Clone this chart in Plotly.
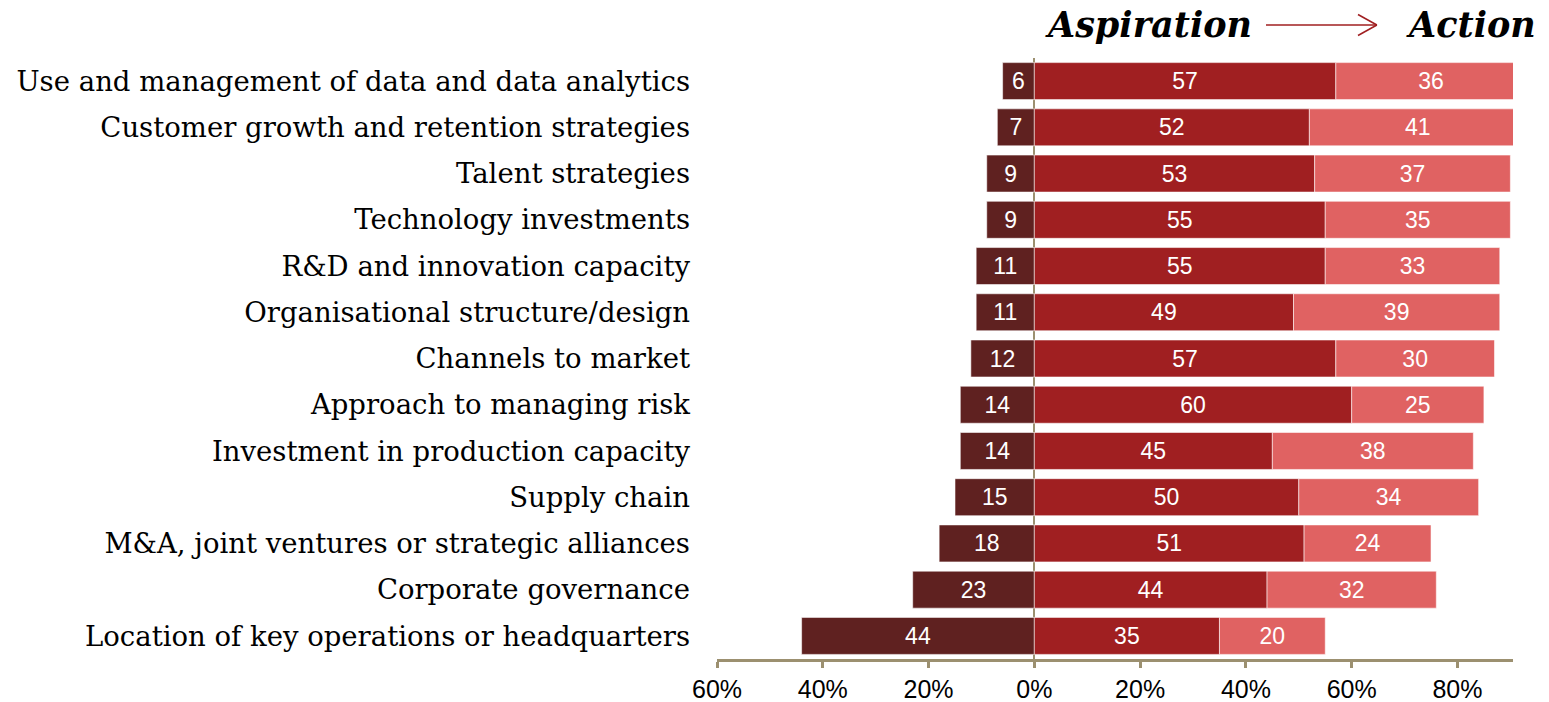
import plotly.graph_objects as go

# ---------------------------------
# DATA (percent of respondents)
# ---------------------------------
categorias = [
    "Use and management of data and data analytics",
    "Customer growth and retention strategies",
    "Talent strategies",
    "Technology investments",
    "R&D and innovation capacity",
    "Organisational structure/design",
    "Channels to market",
    "Approach to managing risk",
    "Investment in production capacity",
    "Supply chain",
    "M&A, joint ventures or strategic alliances",
    "Corporate governance",
    "Location of key operations or headquarters",
]
negativo = [6, 7, 9, 9, 11, 11, 12, 14, 14, 15, 18, 23, 44]
aspiracao = [57, 52, 53, 55, 55, 49, 57, 60, 45, 50, 51, 44, 35]
acao = [36, 41, 37, 35, 33, 39, 30, 25, 38, 34, 24, 32, 20]

tick_vals = [-60, -40, -20, 0, 20, 40, 60, 80]
tick_text = ["60%", "40%", "20%", "0%", "20%", "40%", "60%", "80%"]

# cores
ESCURO = "#5f2120"
VERMELHO = "#a01f21"
CLARO = "#e06262"
EIXO = "#9c9070"

fonte_barra = dict(family="Liberation Sans, Arial, sans-serif", size=23, color="white")

fig = go.Figure()

# --------------------------
# BARRAS
# --------------------------
series = [
    ([-v for v in negativo], negativo, ESCURO),
    (aspiracao, aspiracao, VERMELHO),
    (acao, acao, CLARO),
]
for x, txt, cor in series:
    fig.add_trace(go.Bar(
        y=categorias,
        x=x,
        orientation="h",
        text=[str(t) for t in txt],
        textposition="inside",
        insidetextanchor="middle",
        textfont=fonte_barra,
        marker=dict(color=cor, line=dict(color="rgba(255,255,255,0.55)", width=1)),
        width=0.8,
        hoverinfo="skip",
        showlegend=False,
    ))

# --------------------------
# TITULO  Aspiration -> Action
# --------------------------
fonte_titulo = dict(family="DejaVu Serif, serif", size=35, color="black")
y_titulo = 1.055
fig.add_annotation(
    x=0.5415, y=y_titulo, xref="paper", yref="paper",
    xanchor="center", yanchor="middle",
    text="<b><i>Aspiration</i></b>", showarrow=False, font=fonte_titulo,
)
fig.add_annotation(
    x=0.947, y=y_titulo, xref="paper", yref="paper",
    xanchor="center", yanchor="middle",
    text="<b><i>Action</i></b>", showarrow=False, font=fonte_titulo,
)
# seta
y_seta = 1.0549
seta = dict(color=VERMELHO, width=1.5)
fig.add_shape(type="line", xref="paper", yref="paper",
              x0=0.6897, x1=0.829, y0=y_seta, y1=y_seta, line=seta)
fig.add_shape(type="line", xref="paper", yref="paper",
              x0=0.8053, x1=0.829, y0=y_seta + 0.0175, y1=y_seta, line=seta)
fig.add_shape(type="line", xref="paper", yref="paper",
              x0=0.8053, x1=0.829, y0=y_seta - 0.0175, y1=y_seta, line=seta)

fig.update_layout(
    barmode="relative",
    width=1549,
    height=702,
    margin=dict(l=717, r=36, t=58, b=43, autoexpand=False),
    plot_bgcolor="white",
    paper_bgcolor="white",
    xaxis=dict(
        range=[-60, 90.5],
        tickvals=tick_vals,
        ticktext=tick_text,
        ticks="outside",
        ticklen=6,
        tickwidth=2.5,
        tickcolor=EIXO,
        showline=True,
        linecolor=EIXO,
        linewidth=2.5,
        showgrid=False,
        zeroline=True,
        zerolinecolor=EIXO,
        zerolinewidth=2,
        automargin=False,
        tickfont=dict(family="Liberation Sans, Arial, sans-serif", size=25, color="black"),
        fixedrange=True,
    ),
    yaxis=dict(
        autorange="reversed",
        showgrid=False,
        showline=False,
        ticks="",
        automargin=False,
        ticklabelstandoff=26,
        tickfont=dict(family="DejaVu Serif, serif", size=27.5, color="black"),
        fixedrange=True,
    ),
)

fig.write_html(
    "out.html",
    config={"displayModeBar": False},
    post_script="document.body.style.margin='0';",
)
